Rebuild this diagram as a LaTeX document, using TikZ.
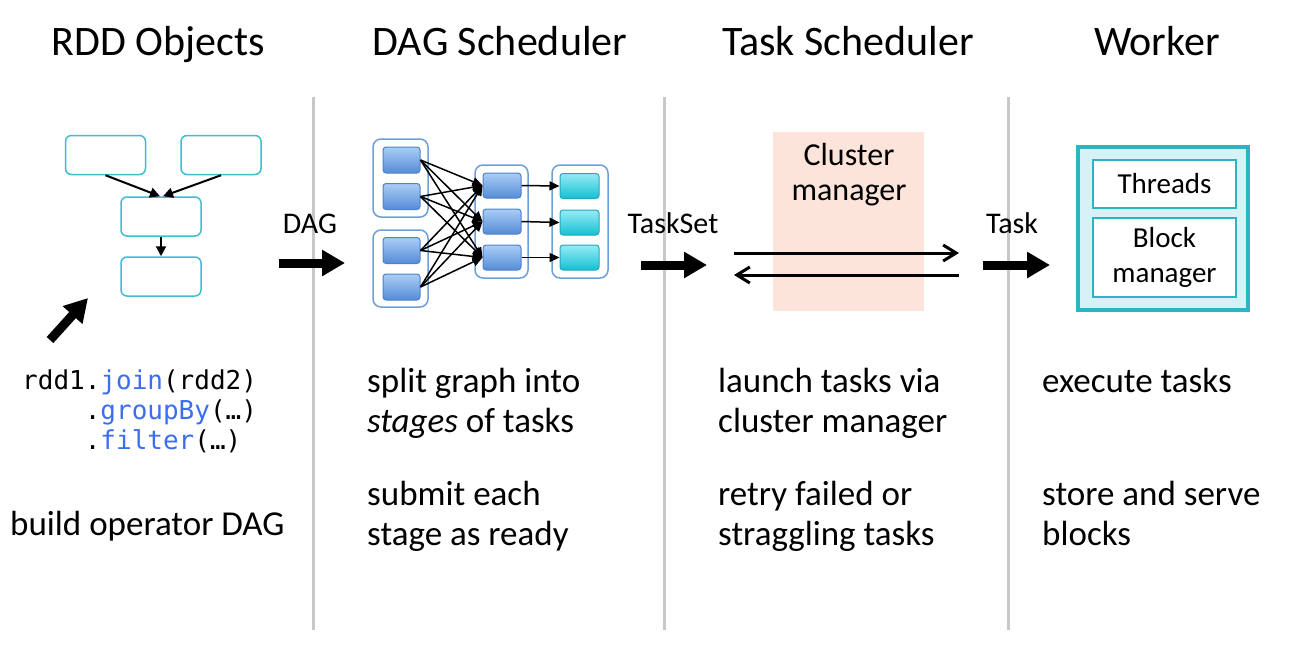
\documentclass[tikz,border=0pt]{standalone}
\usepackage{fontspec}
\setmainfont{Carlito}
\newfontfamily\codefont{DejaVu Sans Mono}
\usetikzlibrary{arrows.meta}
\definecolor{sepgray}{RGB}{200,200,200}
\definecolor{rddcyan}{RGB}{64,190,205}
\definecolor{codeblue}{RGB}{60,110,240}
\definecolor{bluetop}{RGB}{170,205,245}
\definecolor{bluebot}{RGB}{85,140,215}
\definecolor{blueedge}{RGB}{80,130,200}
\definecolor{groupedge}{RGB}{110,160,215}
\definecolor{cyantop}{RGB}{150,235,245}
\definecolor{cyanbot}{RGB}{20,192,210}
\definecolor{cyanedge}{RGB}{30,170,190}
\definecolor{clusterfill}{RGB}{252,228,218}
\definecolor{workeredge}{RGB}{45,180,195}
\definecolor{workerfill}{RGB}{215,242,247}
\begin{document}
\begin{tikzpicture}[x=1pt,y=-1pt,
  sepline/.style={draw=sepgray, line width=3pt},
  heading/.style={inner sep=0pt, anchor=base, font=\fontsize{42}{50}\selectfont},
  lbl/.style={inner sep=0pt, anchor=base, font=\fontsize{30}{36}\selectfont},
  body/.style={inner sep=0pt, anchor=base west, align=left, font=\fontsize{35}{40}\selectfont},
  codetext/.style={inner sep=0pt, anchor=base west, align=left, font=\codefont\fontsize{26}{30}\selectfont},
  rddbox/.style={draw=rddcyan, line width=1.5pt, fill=white, rounded corners=6pt, minimum width=80pt, minimum height=39pt, inner sep=0pt},
  thinarrow/.style={-{Triangle[length=10pt,width=10pt]}, line width=2pt},
  fatarrow/.style={-{Triangle[length=23pt,width=25pt]}, line width=9pt},
  bluebox/.style={draw=blueedge, line width=1pt, top color=bluetop, bottom color=bluebot, rounded corners=3pt, minimum width=37pt, minimum height=26pt, inner sep=0pt},
  cyanbox/.style={draw=cyanedge, line width=1pt, top color=cyantop, bottom color=cyanbot, rounded corners=3pt, minimum width=39pt, minimum height=25pt, inner sep=0pt},
  groupbox/.style={draw=groupedge, line width=1.5pt, fill=white, rounded corners=8pt, inner sep=0pt},
  dagarrow/.style={-{Triangle[length=10pt,width=9pt]}, line width=1.5pt},
  barbarrow/.style={-{Straight Barb[length=13pt,width=16pt]}, line width=3pt},
  cmbox/.style={fill=clusterfill, inner sep=0pt, minimum width=151pt, minimum height=179pt},
  workerbox/.style={draw=workeredge, line width=4pt, fill=workerfill, inner sep=0pt, minimum width=170pt, minimum height=163pt},
  innerbox/.style={draw=workeredge, line width=2pt, fill=white, inner sep=0pt, minimum width=143pt, align=center, font=\fontsize{29}{35}\selectfont},
]
\useasboundingbox (0,0) rectangle (1297,657);
\fill[white] (0,0) rectangle (1297,657);

% separators
\draw[sepline] (313,97) -- (313,630);
\draw[sepline] (664,97) -- (664,630);
\draw[sepline] (1008,97) -- (1008,630);

% headings
\node[heading] (h1) at (158,55) {RDD Objects};
\node[heading] (h2) at (500,55) {DAG Scheduler};
\node[heading] (h3) at (848,55) {Task Scheduler};
\node[heading] (h4) at (1157,55) {Worker};

% RDD objects
\node[rddbox] (r1) at (105.5,155) {};
\node[rddbox] (r2) at (221,155) {};
\node[rddbox] (r3) at (161,216.5) {};
\node[rddbox] (r4) at (161,276.5) {};
\draw[thinarrow] (r1.south) -- ([xshift=-1pt]r3.north);
\draw[thinarrow] (r2.south) -- ([xshift=2pt]r3.north);
\draw[thinarrow] (r3) -- (r4);
\coordinate (fa0) at (50,340);
\coordinate (fa1) at (88,298);
\draw[fatarrow] (fa0) -- (fa1);
\node[codetext] (code) at (22,449) {rdd1.{\color{codeblue}join}(rdd2)\\\phantom{rdd1}.{\color{codeblue}groupBy}(…)\\\phantom{rdd1}.{\color{codeblue}filter}(…)};
\node[body] (t1) at (10,535) {build operator DAG};

% DAG label and arrow
\node[lbl] (dag) at (310,233) {DAG};
\coordinate (da0) at (279,263);
\coordinate (da1) at (345,263);
\draw[fatarrow] (da0) -- (da1);

% DAG scheduler graph
\node[groupbox, minimum width=55pt, minimum height=78pt] (g1) at (400.5,178) {};
\node[groupbox, minimum width=55pt, minimum height=77pt] (g2) at (400.5,268.5) {};
\node[groupbox, minimum width=53pt, minimum height=113pt] (g3) at (501.5,221.5) {};
\node[groupbox, minimum width=56pt, minimum height=113pt] (g4) at (580,221.5) {};
\node[bluebox] (a1) at (401.5,160) {};
\node[bluebox] (a2) at (401.5,196.5) {};
\node[bluebox] (a3) at (401.5,250.5) {};
\node[bluebox] (a4) at (401.5,287) {};
\node[bluebox, minimum width=38pt, minimum height=25pt] (b1) at (502,185.5) {};
\node[bluebox, minimum width=38pt, minimum height=25pt] (b2) at (502,221.5) {};
\node[bluebox, minimum width=38pt, minimum height=25pt] (b3) at (502,257.5) {};
\node[cyanbox] (c1) at (579.5,186) {};
\node[cyanbox] (c2) at (579.5,222.5) {};
\node[cyanbox] (c3) at (579.5,257.5) {};
\foreach \i in {1,2,3,4}{
  \foreach \j in {1,2,3}{
    \draw[dagarrow] (a\i.east) -- (b\j.west);
  }
}
\foreach \j in {1,2,3}{
  \draw[dagarrow] (b\j.east) -- (c\j.west);
}

% TaskSet label and arrow
\node[lbl] (taskset) at (673,233) {TaskSet};
\coordinate (ta0) at (641,265);
\coordinate (ta1) at (707,265);
\draw[fatarrow] (ta0) -- (ta1);

% Cluster manager
\node[cmbox] (cm) at (848.5,221.5) {};
\node[inner sep=0pt, anchor=base, align=center, font=\fontsize{32}{35}\selectfont] (cmtext) at (849,200) {Cluster\\manager};
\coordinate (cl1) at (734,253);
\coordinate (cr1) at (959,253);
\coordinate (cr2) at (959,275);
\coordinate (cl2) at (734,275);
\draw[barbarrow] (cl1) -- (cr1);
\draw[barbarrow] (cr2) -- (cl2);

% Task label and arrow
\node[lbl] (task) at (1012,233) {Task};
\coordinate (wa0) at (983,265);
\coordinate (wa1) at (1050,265);
\draw[fatarrow] (wa0) -- (wa1);

% Worker
\node[workerbox] (worker) at (1163,228.5) {};
\node[innerbox, minimum height=48pt] (threads) at (1164.5,184) {Threads};
\node[innerbox, minimum height=79pt] (bm) at (1164.5,257.5) {Block\\manager};

% body texts
\node[body] (d1) at (367,432) {split graph into\\\textit{stages} of tasks};
\node[body] (d2) at (367,545) {submit each\\stage as ready};
\node[body] (s1) at (718,432) {launch tasks via\\cluster manager};
\node[body] (s2) at (718,545) {retry failed or\\straggling tasks};
\node[body] (w1) at (1042,392) {execute tasks};
\node[body] (w2) at (1042,545) {store and serve\\blocks};
\end{tikzpicture}
\end{document}
